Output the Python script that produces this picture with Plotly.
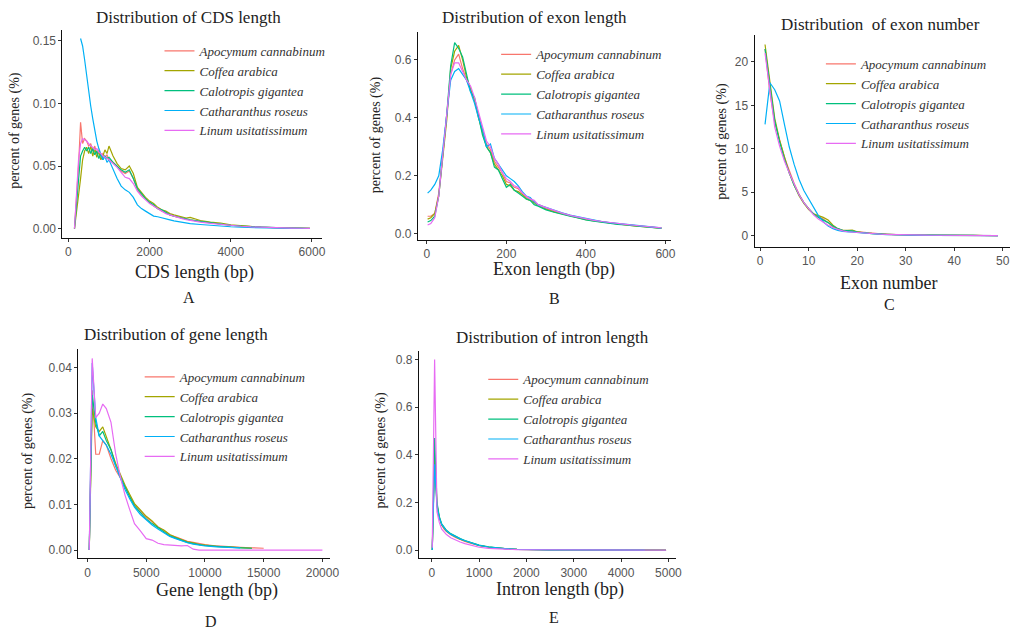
import plotly.graph_objects as go

# page body has an 8px margin: the figure is sized to fill the rest of the window
OFF = 8
W, H = 1021, 632
FW, FH = W - OFF, H - OFF

SPECIES = ["Apocymum cannabinum", "Coffea arabica", "Calotropis gigantea",
           "Catharanthus roseus", "Linum usitatissimum"]
COLORS = ["#F8766D", "#A3A500", "#00BF7D", "#00B0F6", "#E76BF3"]

# ---------------- A: CDS length ----------------
cds_x = [150, 200, 250, 300, 350, 400, 450, 500, 550, 600, 650, 700, 750, 800, 850, 900, 950, 1000,
         1100, 1200, 1300, 1400, 1500, 1600, 1700, 1800, 1900, 2000, 2100, 2200, 2300, 2400, 2500,
         2600, 2700, 2800, 2900, 3000,
         3250, 3500, 3750, 4000, 4250, 4500, 4750, 5000, 5250, 5500, 5750, 5950]
cds_apocymum = [0.0, 0.025, 0.05, 0.085, 0.068, 0.072, 0.070, 0.066, 0.068, 0.062, 0.066, 0.060, 0.063, 0.058, 0.060, 0.057, 0.059, 0.055,
                0.053, 0.050, 0.046, 0.044, 0.046, 0.040, 0.031, 0.027, 0.024, 0.021, 0.018, 0.016, 0.014, 0.013, 0.011, 0.010, 0.0092, 0.0085, 0.0075, 0.007,
                0.0058, 0.0045, 0.0035, 0.0027, 0.002, 0.0015, 0.0011, 0.0008, 0.0006, 0.0004, 0.0003, 0.0002]
cds_coffea = [0.0, 0.012, 0.025, 0.040, 0.055, 0.062, 0.065, 0.060, 0.066, 0.058, 0.064, 0.057, 0.062, 0.055, 0.058, 0.063, 0.060, 0.066,
              0.058, 0.052, 0.048, 0.047, 0.050, 0.044, 0.033, 0.029, 0.025, 0.022, 0.020, 0.017, 0.015, 0.014, 0.012, 0.011, 0.010, 0.0095, 0.0085, 0.009,
              0.0065, 0.0052, 0.0045, 0.003, 0.0022, 0.0016, 0.0012, 0.0009, 0.0006, 0.0004, 0.0003, 0.0002]
cds_calotropis = [0.0, 0.018, 0.040, 0.058, 0.062, 0.065, 0.062, 0.065, 0.060, 0.064, 0.059, 0.062, 0.056, 0.060, 0.055, 0.058, 0.056, 0.057,
                  0.053, 0.050, 0.047, 0.045, 0.047, 0.040, 0.032, 0.028, 0.024, 0.021, 0.019, 0.016, 0.015, 0.013, 0.011, 0.010, 0.009, 0.0085, 0.0078, 0.007,
                  0.0058, 0.0046, 0.0036, 0.0027, 0.002, 0.0015, 0.0011, 0.0008, 0.0006, 0.0004, 0.0003, 0.0002]
cds_catharanthus = [None, None, None, 0.152, 0.146, 0.135, 0.122, 0.110, 0.098, 0.088, 0.078, 0.070, 0.064, 0.060, 0.055, 0.058, 0.053, 0.055,
                    0.047, 0.040, 0.034, 0.031, 0.029, 0.025, 0.019, 0.016, 0.014, 0.012, 0.010, 0.0095, 0.0085, 0.0075, 0.007, 0.0062, 0.0055, 0.005, 0.0045, 0.004,
                    0.0033, 0.0026, 0.002, 0.0015, 0.0011, 0.0008, 0.0006, 0.0004, 0.0003, 0.0002, 0.0001, 0.0001]
cds_linum = [0.0, 0.030, 0.055, 0.068, 0.072, 0.071, 0.070, 0.068, 0.066, 0.065, 0.063, 0.064, 0.061, 0.060, 0.058, 0.057, 0.056, 0.055,
             0.052, 0.049, 0.045, 0.041, 0.040, 0.036, 0.030, 0.026, 0.023, 0.020, 0.018, 0.016, 0.014, 0.012, 0.011, 0.0098, 0.0088, 0.008, 0.0072, 0.0065,
             0.0052, 0.0042, 0.0033, 0.0025, 0.0019, 0.0014, 0.001, 0.0008, 0.0006, 0.0004, 0.0003, 0.0002]

# ---------------- B: exon length ----------------
exon_len_x = [2, 10, 20, 30, 40, 50, 60, 70, 80, 90, 100,
              110, 120, 130, 140, 150, 160, 170, 180, 190, 200,
              210, 220, 230, 240, 250, 260, 270, 280, 290, 300,
              320, 340, 360, 380, 400, 420, 440, 460, 480, 500, 520, 540, 560, 580, 590]
exon_len_apocymum = [0.06, 0.06, 0.07, 0.14, 0.27, 0.40, 0.55, 0.60, 0.62, 0.57, 0.53,
                     0.50, 0.46, 0.41, 0.36, 0.31, 0.29, 0.25, 0.23, 0.21, 0.18,
                     0.175, 0.16, 0.155, 0.14, 0.125, 0.12, 0.11, 0.10, 0.095, 0.087,
                     0.078, 0.07, 0.062, 0.056, 0.050, 0.045, 0.041, 0.037, 0.034, 0.031, 0.028, 0.026, 0.023, 0.021, 0.019]
exon_len_coffea = [0.05, 0.055, 0.07, 0.13, 0.26, 0.39, 0.57, 0.63, 0.65, 0.60, 0.54,
                   0.50, 0.46, 0.40, 0.35, 0.30, 0.28, 0.24, 0.22, 0.20, 0.17,
                   0.165, 0.15, 0.145, 0.135, 0.12, 0.115, 0.105, 0.097, 0.09, 0.084,
                   0.075, 0.068, 0.06, 0.054, 0.048, 0.044, 0.04, 0.036, 0.033, 0.03, 0.027, 0.025, 0.023, 0.02, 0.019]
exon_len_calotropis = [0.04, 0.045, 0.06, 0.13, 0.27, 0.41, 0.58, 0.66, 0.64, 0.61, 0.55,
                       0.49, 0.47, 0.41, 0.34, 0.30, 0.28, 0.23, 0.22, 0.19, 0.16,
                       0.17, 0.15, 0.14, 0.13, 0.12, 0.115, 0.10, 0.095, 0.088, 0.082,
                       0.074, 0.066, 0.06, 0.054, 0.047, 0.043, 0.039, 0.036, 0.032, 0.03, 0.027, 0.024, 0.022, 0.02, 0.018]
exon_len_catharanthus = [0.14, 0.15, 0.17, 0.20, 0.29, 0.40, 0.53, 0.56, 0.57, 0.55, 0.53,
                         0.49, 0.45, 0.40, 0.36, 0.30, 0.31, 0.26, 0.24, 0.22, 0.20,
                         0.19, 0.18, 0.165, 0.145, 0.13, 0.125, 0.11, 0.10, 0.095, 0.09,
                         0.08, 0.072, 0.064, 0.058, 0.052, 0.046, 0.042, 0.038, 0.035, 0.032, 0.029, 0.026, 0.024, 0.022, 0.02]
exon_len_linum = [0.03, 0.035, 0.055, 0.13, 0.27, 0.40, 0.55, 0.59, 0.59, 0.56, 0.53,
                  0.51, 0.47, 0.42, 0.37, 0.32, 0.30, 0.26, 0.24, 0.21, 0.19,
                  0.18, 0.165, 0.16, 0.14, 0.13, 0.12, 0.115, 0.10, 0.095, 0.09,
                  0.08, 0.071, 0.063, 0.057, 0.051, 0.046, 0.042, 0.038, 0.035, 0.032, 0.029, 0.026, 0.024, 0.022, 0.02]

# ---------------- C: exon number ----------------
exon_num_x = [1, 2, 3, 4, 5, 6, 7, 8, 9, 10, 11, 12, 13, 14, 15, 16, 17, 18, 19, 20,
              21, 22, 23, 24, 25, 26, 27, 28, 29, 30, 31, 32, 33, 34, 35, 36, 37, 38, 39, 40,
              41, 42, 43, 44, 45, 46, 47, 48, 49]
exon_num_apocymum = [21.5, 16.5, 13.0, 11.0, 9.0, 7.5, 6.0, 4.8, 3.8, 3.1,
                     2.5, 2.2, 1.9, 1.5, 1.0, 0.75, 0.6, 0.55, 0.5, 0.4,
                     0.33, 0.28, 0.24, 0.2, 0.17, 0.14, 0.12, 0.1, 0.09, 0.08,
                     0.07, 0.06, 0.055, 0.05, 0.045, 0.04, 0.035, 0.03, 0.03, 0.025,
                     0.025, 0.02, 0.02, 0.02, 0.015, 0.015, 0.01, 0.01, 0.01]
exon_num_coffea = [22.0, 18.0, 13.5, 11.0, 9.0, 7.2, 5.8, 4.6, 3.7, 3.0,
                   2.5, 2.3, 2.1, 1.8, 1.2, 0.8, 0.6, 0.6, 0.65, 0.45,
                   0.35, 0.3, 0.25, 0.21, 0.18, 0.15, 0.13, 0.11, 0.1, 0.09,
                   0.08, 0.07, 0.06, 0.055, 0.05, 0.045, 0.04, 0.035, 0.03, 0.03,
                   0.025, 0.025, 0.02, 0.02, 0.02, 0.015, 0.015, 0.01, 0.01]
exon_num_calotropis = [21.5, 17.5, 13.2, 10.8, 8.8, 7.2, 5.8, 4.7, 3.8, 3.1,
                       2.5, 2.1, 1.8, 1.5, 1.1, 0.8, 0.6, 0.55, 0.55, 0.4,
                       0.32, 0.27, 0.22, 0.19, 0.16, 0.14, 0.12, 0.1, 0.09, 0.08,
                       0.07, 0.06, 0.055, 0.05, 0.045, 0.04, 0.035, 0.03, 0.03, 0.025,
                       0.025, 0.02, 0.02, 0.02, 0.015, 0.015, 0.01, 0.01, 0.01]
exon_num_catharanthus = [12.8, 17.6, 16.8, 15.5, 12.8, 10.2, 8.2, 6.5, 5.2, 4.2,
                         3.2, 2.3, 1.6, 1.1, 0.8, 0.6, 0.5, 0.45, 0.4, 0.35,
                         0.3, 0.25, 0.2, 0.17, 0.14, 0.12, 0.1, 0.08, 0.07, 0.06,
                         0.05, 0.045, 0.04, 0.035, 0.03, 0.03, 0.025, 0.02, 0.02, 0.02,
                         0.015, 0.015, 0.01, 0.01, 0.01, 0.01, 0.005, 0.005, 0.005]
exon_num_linum = [21.0, 16.5, 12.5, 10.3, 8.6, 7.2, 5.9, 4.7, 3.8, 3.1,
                  2.4, 1.9, 1.5, 1.2, 0.9, 0.7, 0.55, 0.45, 0.4, 0.35,
                  0.3, 0.26, 0.22, 0.19, 0.16, 0.14, 0.12, 0.1, 0.09, 0.08,
                  0.07, 0.06, 0.055, 0.05, 0.045, 0.04, 0.035, 0.03, 0.03, 0.025,
                  0.025, 0.02, 0.02, 0.02, 0.015, 0.015, 0.01, 0.01, 0.01]

# ---------------- D: gene length ----------------
gene_x = [150, 400, 700, 1000, 1300, 1600, 2000, 2400, 2800, 3200,
          3600, 4000, 4500, 5000, 5500, 6000, 6500, 7000, 7500, 8000,
          8500, 9000, 9500, 10000, 11000, 12000, 13000, 14000, 15000, 16000,
          17000, 18000, 19000, 20000]
gene_apocymum = [0.0, 0.035, 0.021, 0.021, 0.024, 0.023, 0.020, 0.0175, 0.0158, 0.0138,
                 0.0118, 0.0100, 0.0086, 0.0072, 0.0062, 0.0051, 0.0043, 0.0033, 0.0029, 0.0024,
                 0.0019, 0.0017, 0.0014, 0.0012, 0.0009, 0.0007, 0.0006, 0.0005, 0.0004, None,
                 None, None, None, None]
gene_coffea = [0.0, 0.031, 0.027, 0.026, 0.027, 0.025, 0.022, 0.019, 0.0165, 0.0142,
               0.0122, 0.0102, 0.0088, 0.0074, 0.0064, 0.0050, 0.0044, 0.0034, 0.0028, 0.0023,
               0.0018, 0.0016, 0.0012, 0.0011, 0.0008, 0.0007, 0.0005, 0.0004, None, None,
               None, None, None, None]
gene_calotropis = [0.0, 0.034, 0.028, 0.025, 0.026, 0.024, 0.022, 0.0185, 0.016, 0.0136,
                   0.0116, 0.0097, 0.0083, 0.0068, 0.0058, 0.0048, 0.0040, 0.0031, 0.0026, 0.0021,
                   0.0017, 0.0014, 0.0012, 0.0010, 0.0008, 0.0006, 0.0005, 0.0004, None, None,
                   None, None, None, None]
gene_catharanthus = [0.0, 0.041, 0.029, 0.025, 0.024, 0.023, 0.021, 0.0185, 0.0158, 0.0132,
                     0.0112, 0.0094, 0.0078, 0.0066, 0.0055, 0.0046, 0.0038, 0.0030, 0.0025, 0.0020,
                     0.0016, 0.0013, 0.0011, 0.0009, 0.0007, 0.0006, 0.0005, None, None, None,
                     None, None, None, None]
gene_linum = [0.0, 0.042, 0.029, 0.030, 0.032, 0.031, 0.028, 0.021, 0.016, 0.012,
              0.0088, 0.0058, 0.0042, 0.0025, 0.0022, 0.0015, 0.0012, 0.0011, 0.0011, 0.0009,
              0.001, 0.0002, 0.0, 0.0, 0.0, 0.0, 0.0, 0.0, 0.0, 0.0,
              0.0, 0.0, 0.0, 0.0]

# ---------------- E: intron length ----------------
intron_x = [10, 60, 110, 160, 210, 260, 310, 400, 500, 600,
            700, 800, 900, 1000, 1200, 1400, 1600, 1800, 2000, 2500,
            3000, 3500, 4000, 4500, 4950]
intron_apocymum = [0.0, 0.40, 0.19, 0.135, 0.105, 0.088, 0.078, 0.064, 0.053, 0.044,
                   0.036, 0.030, 0.024, 0.019, 0.012, 0.0075, 0.005, 0.0032, 0.0022, 0.0011,
                   0.0006, 0.0003, 0.0002, 0.0001, 0.0001]
intron_coffea = [0.0, 0.39, 0.19, 0.135, 0.105, 0.09, 0.08, 0.066, 0.055, 0.046,
                 0.038, 0.031, 0.025, 0.02, 0.013, 0.008, 0.0052, 0.0034, 0.0023, 0.0012,
                 0.0006, 0.0003, 0.0002, 0.0001, 0.0001]
intron_calotropis = [0.0, 0.47, 0.2, 0.14, 0.11, 0.094, 0.083, 0.069, 0.058, 0.048,
                     0.04, 0.033, 0.027, 0.021, 0.014, 0.0085, 0.0055, 0.0036, 0.0024, 0.0012,
                     0.0006, 0.0003, 0.0002, 0.0001, 0.0001]
intron_catharanthus = [0.0, 0.36, 0.18, 0.135, 0.108, 0.092, 0.081, 0.067, 0.056, 0.047,
                       0.039, 0.032, 0.026, 0.02, 0.013, 0.008, 0.0052, 0.0034, 0.0023, 0.0012,
                       0.0006, 0.0003, 0.0002, 0.0001, None]
intron_linum = [0.01, 0.80, 0.16, 0.115, 0.088, 0.074, 0.065, 0.052, 0.042, 0.034,
                0.027, 0.021, 0.016, 0.012, 0.007, 0.0045, 0.003, 0.002, 0.0014, 0.0008,
                0.0004, 0.0002, 0.0001, 0.0001, 0.0001]

# ---------------- tick labels ----------------
cds_ticks_x = [0, 2000, 4000, 6000]
cds_ticks_y = [0.00, 0.05, 0.10, 0.15]
exon_len_ticks_x = [0, 200, 400, 600]
exon_len_ticks_y = [0.0, 0.2, 0.4, 0.6]
exon_num_ticks_x = [0, 10, 20, 30, 40, 50]
exon_num_ticks_y = [0, 5, 10, 15, 20]
gene_ticks_x = [0, 5000, 10000, 15000, 20000]
gene_ticks_y = [0.00, 0.01, 0.02, 0.03, 0.04]
intron_ticks_x = [0, 1000, 2000, 3000, 4000, 5000]
intron_ticks_y = [0.0, 0.2, 0.4, 0.6, 0.8]

panels = [
    dict(x=cds_x, ys=[cds_apocymum, cds_coffea, cds_calotropis, cds_catharanthus, cds_linum],
         box=(63, 325, 30, 238), xr=[-146, 6244], yr=[-0.0072, 0.1588],
         tx=cds_ticks_x, ty=cds_ticks_y, tfx="d", tfy=".2f",
         title="Distribution of CDS length", title_pos=(190, 18),
         xtitle="CDS length (bp)", xtitle_pos=(196, 273),
         letter="A", letter_pos=(191, 298), ytitle_pos=(15, 130), leg=(161, 91)),
    dict(x=exon_len_x, ys=[exon_len_apocymum, exon_len_coffea, exon_len_calotropis, exon_len_catharanthus, exon_len_linum],
         box=(422, 678, 32, 240), xr=[-22.4, 615], yr=[-0.0207, 0.6966],
         tx=exon_len_ticks_x, ty=exon_len_ticks_y, tfx="d", tfy=".1f",
         title="Distribution of exon length", title_pos=(540, 18),
         xtitle="Exon length (bp)", xtitle_pos=(559, 270),
         letter="B", letter_pos=(560, 299), ytitle_pos=(379, 135), leg=(501, 94.5)),
    dict(x=exon_num_x, ys=[exon_num_apocymum, exon_num_coffea, exon_num_calotropis, exon_num_catharanthus, exon_num_linum],
         box=(762, 1020, 35, 247), xr=[-1.16, 51.5], yr=[-1.264, 23.10],
         tx=exon_num_ticks_x, ty=exon_num_ticks_y, tfx="d", tfy="d",
         title="Distribution\u00a0 of exon number", title_pos=(889, 25),
         xtitle="Exon number", xtitle_pos=(897, 283),
         letter="C", letter_pos=(898, 305), ytitle_pos=(729, 141), leg=(829, 104)),
    dict(x=gene_x, ys=[gene_apocymum, gene_coffea, gene_calotropis, gene_catharanthus, gene_linum],
         box=(79, 333, 350, 559), xr=[-784, 20628], yr=[-0.00176, 0.04396],
         tx=gene_ticks_x, ty=gene_ticks_y, tfx="d", tfy=".2f",
         title="Distribution of gene length", title_pos=(178, 335),
         xtitle="Gene length (bp)", xtitle_pos=(219, 591),
         letter="D", letter_pos=(213, 622), ytitle_pos=(28, 451), leg=(141, 417.5)),
    dict(x=intron_x, ys=[intron_apocymum, intron_coffea, intron_calotropis, intron_catharanthus, intron_linum],
         box=(423, 683, 352, 559), xr=[-272, 5167], yr=[-0.0337, 0.8337],
         tx=intron_ticks_x, ty=intron_ticks_y, tfx="d", tfy=".1f",
         title="Distribution of intron length", title_pos=(558, 338),
         xtitle="Intron length (bp)", xtitle_pos=(565, 590),
         letter="E", letter_pos=(559, 618), ytitle_pos=(385, 451), leg=(488, 420)),
]

SERIF = "Liberation Serif"
SANS = "Liberation Sans"

fig = go.Figure()
layout = dict(width=FW, height=FH, margin=dict(l=0, r=0, t=0, b=0), autosize=False,
              paper_bgcolor="white", plot_bgcolor="white", showlegend=True)
annotations = []


def px(x):
    return (x - OFF) / FW


def py(y):
    return 1 - (y - OFF) / FH


for i, p in enumerate(panels):
    n = "" if i == 0 else str(i + 1)
    legname = "legend" if i == 0 else f"legend{i + 1}"
    for name, color, ys in zip(SPECIES, COLORS, p["ys"]):
        fig.add_trace(go.Scatter(
            x=p["x"], y=ys, mode="lines", name=name,
            line=dict(color=color, width=1.2),
            xaxis="x" + n, yaxis="y" + n, legend=legname, showlegend=True,
        ))
    l, r, t, b = p["box"]
    axis_common = dict(showline=True, linecolor="#111111", linewidth=1,
                       ticks="outside", ticklen=3, tickcolor="#333333", tickwidth=1,
                       showgrid=False, zeroline=False, mirror=False,
                       tickfont=dict(family=SANS, size=12, color="#555555"))
    layout["xaxis" + n] = dict(domain=[px(l), px(r)], range=p["xr"], anchor="y" + n,
                               tickvals=p["tx"], tickformat=p["tfx"], **axis_common)
    layout["yaxis" + n] = dict(domain=[py(b), py(t)], range=p["yr"], anchor="x" + n,
                               tickvals=p["ty"], tickformat=p["tfy"], **axis_common)
    layout[legname] = dict(x=px(p["leg"][0]), y=py(p["leg"][1]), xanchor="left", yanchor="middle",
                           bgcolor="rgba(0,0,0,0)", borderwidth=0, itemwidth=30,
                           font=dict(family=SERIF, size=13, color="#333333", style="italic"),
                           itemclick=False, itemdoubleclick=False)
    annotations.append(dict(text=p["title"], x=px(p["title_pos"][0]), y=py(p["title_pos"][1]),
                            xref="paper", yref="paper", showarrow=False,
                            xanchor="center", yanchor="middle",
                            font=dict(family=SERIF, size=17, color="#222222")))
    annotations.append(dict(text=p["xtitle"], x=px(p["xtitle_pos"][0]), y=py(p["xtitle_pos"][1]),
                            xref="paper", yref="paper", showarrow=False,
                            xanchor="center", yanchor="middle",
                            font=dict(family=SERIF, size=18, color="#222222")))
    annotations.append(dict(text=p["letter"], x=px(p["letter_pos"][0]), y=py(p["letter_pos"][1]),
                            xref="paper", yref="paper", showarrow=False,
                            xanchor="center", yanchor="middle",
                            font=dict(family=SERIF, size=16, color="#222222")))
    annotations.append(dict(text="percent of genes (%)", x=px(p["ytitle_pos"][0]), y=py(p["ytitle_pos"][1]),
                            xref="paper", yref="paper", showarrow=False, textangle=-90,
                            xanchor="center", yanchor="middle",
                            font=dict(family=SERIF, size=14, color="#222222")))

layout["annotations"] = annotations
fig.update_layout(**layout)
fig.write_html("out.html")
